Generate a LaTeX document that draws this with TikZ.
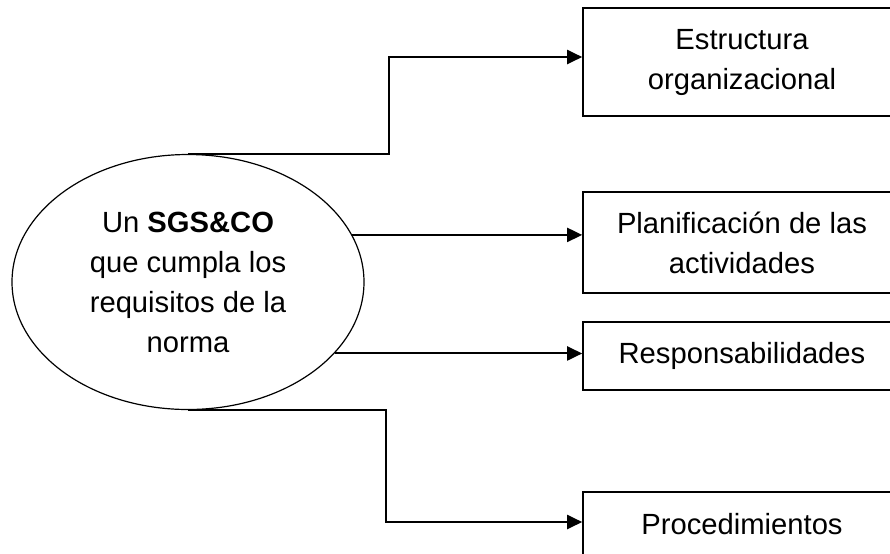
\documentclass[tikz,border=0pt]{standalone}
\usepackage{fontspec}
\setmainfont{Liberation Sans}
\usetikzlibrary{arrows.meta,shapes.geometric}

\begin{document}
\begin{tikzpicture}[x=0.5pt,y=-0.5pt,line cap=butt,
			>={Triangle[length=7.5pt,width=7pt]},
			caja/.style={draw,line width=0.8pt,minimum width=159pt,inner sep=0pt,
				align=center,font=\fontsize{14.6}{20}\selectfont},
			conector/.style={line width=1pt,->}]
			\useasboundingbox (0,0) rectangle (890,553);
			\clip (0,0) rectangle (890,553);
			% elipse central
			\node[ellipse,draw,line width=0.6pt,minimum width=176pt,minimum height=127.5pt,
				inner sep=0pt,align=center,font=\fontsize{14.6}{20}\selectfont]
				(sgs) at (188,282) {Un \textbf{SGS\&CO}\\que cumpla los\\requisitos de la\\norma};
			% cajas (cortadas a la derecha)
			\node[caja,minimum height=54pt] (estr) at (742,62) {Estructura\\organizacional};
			\node[caja,minimum height=50.5pt] (plan) at (742,242.5) {Planificaci\'on de las\\actividades};
			\node[caja,minimum height=34pt] (resp) at (742,356) {Responsabilidades};
			\node[caja,minimum height=32pt] (proc) at (742,524) {Procedimientos};
			% conectores
			\coordinate (arriba) at (389,57);
			\coordinate (abajo) at (386,522);
			\draw[conector] (sgs.north) -| (arriba) -- (arriba -| estr.west);
			\draw[conector] (sgs.16) -- (sgs.16 -| plan.west);
			\draw[conector] (sgs.-26) -- (sgs.-26 -| resp.west);
			\draw[conector] (sgs.south) -| (abajo) -- (abajo -| proc.west);
		\end{tikzpicture}
\end{document}
